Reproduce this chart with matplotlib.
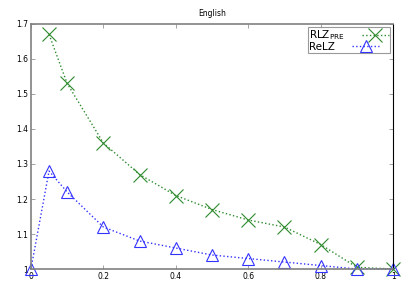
import matplotlib
matplotlib.use("Agg")
import matplotlib.pyplot as plt

# data
x_rlz = [0.05, 0.1, 0.2, 0.3, 0.4, 0.5, 0.6, 0.7, 0.8, 0.9, 1.0]
y_rlz = [1.67, 1.53, 1.36, 1.27, 1.21, 1.17, 1.14, 1.12, 1.07, 1.005, 1.0]
x_relz = [0.0, 0.05, 0.1, 0.2, 0.3, 0.4, 0.5, 0.6, 0.7, 0.8, 0.9, 1.0]
y_relz = [1.0, 1.28, 1.22, 1.12, 1.08, 1.06, 1.04, 1.03, 1.02, 1.01, 1.0, 1.0]
xticks = [0, 0.2, 0.4, 0.6, 0.8, 1]
yticks = [1, 1.1, 1.2, 1.3, 1.4, 1.5, 1.6, 1.7]

fig = plt.figure(figsize=(4.07, 2.85), dpi=100)
ax = fig.add_axes([0.076, 0.056, 0.89, 0.86])

ax.plot(x_rlz, y_rlz, linestyle=":", color="#2e8b2e", marker="x", markersize=10,
        markeredgewidth=0.8, linewidth=1, label=r"RLZ$_{\mathrm{PRE}}$", clip_on=False)
ax.plot(x_relz, y_relz, linestyle=":", color="#3333ff", marker="^", markersize=9,
        markerfacecolor="none", markeredgewidth=0.8, linewidth=1, label="ReLZ", clip_on=False)

ax.set_xlim(0, 1)
ax.set_ylim(1, 1.7)
ax.set_xticks(xticks)
ax.set_xticklabels(["0", "0.2", "0.4", "0.6", "0.8", "1"])
ax.set_yticks(yticks)
ax.set_yticklabels(["1", "1.1", "1.2", "1.3", "1.4", "1.5", "1.6", "1.7"])
ax.tick_params(labelsize=5.5, length=3, width=0.5, color="gray", direction="in",
               top=True, right=True, pad=2)

for s in ["left", "top", "bottom"]:
    ax.spines[s].set_color("gray")
    ax.spines[s].set_linewidth(1.2)
ax.spines["right"].set_color("black")

ax.set_title("English", fontsize=5.5, pad=6)

leg = ax.legend(loc="upper right", fontsize=7.5, markerfirst=False, fancybox=False,
                borderpad=0.1, labelspacing=0.0, handlelength=2.6, borderaxespad=0.3,
                handletextpad=1.6, handleheight=0.6)
leg.get_frame().set_edgecolor("gray")
leg.get_frame().set_linewidth(0.8)
# left-align the label texts like gnuplot
for col in leg._legend_handle_box.get_children():
    col.align = "left"

plt.savefig("out.png", dpi=100)
